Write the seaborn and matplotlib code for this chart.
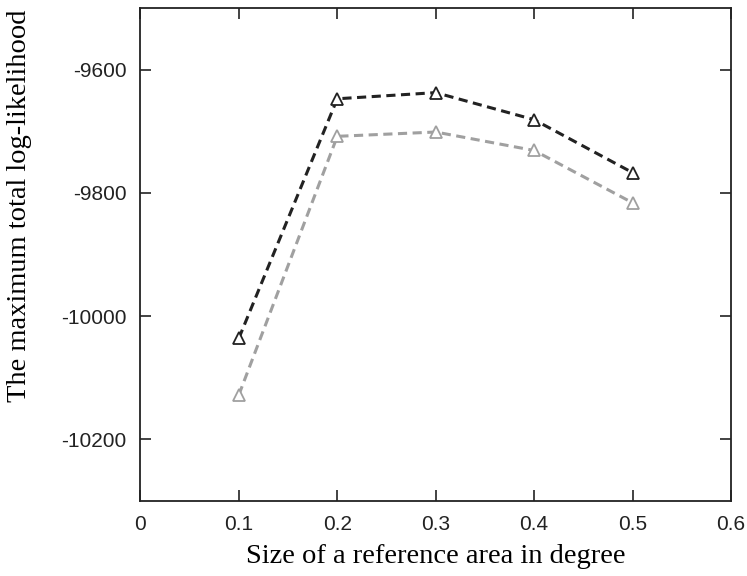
import matplotlib
matplotlib.use("Agg")
import matplotlib.pyplot as plt
import seaborn as sns
import pandas as pd

sizes = [0.1, 0.2, 0.3, 0.4, 0.5]
series_black = [-10036, -9647, -9637, -9681, -9767]
series_gray = [-10128, -9708, -9701, -9731, -9816]
x_ticks = [0, 0.1, 0.2, 0.3, 0.4, 0.5, 0.6]
y_ticks = [-9600, -9800, -10000, -10200]

sns.set_theme(style="ticks")
plt.rcParams['font.family'] = ['Liberation Serif', 'DejaVu Serif']

fig = plt.figure(figsize=(7.47, 5.76), dpi=100)
ax = fig.add_axes([0.188, 0.1307, 0.9786 - 0.188, 0.9856 - 0.1307])

df = pd.DataFrame({
    "size": sizes * 2,
    "ll": series_black + series_gray,
    "run": ["a"] * len(sizes) + ["b"] * len(sizes),
})

for run, color in [("b", "#a0a0a0"), ("a", "#222222")]:
    sub = df[df["run"] == run]
    sns.lineplot(data=sub, x="size", y="ll", ax=ax, color=color,
                 linewidth=2.2, linestyle=(0, (3, 1.8)), marker="^",
                 markersize=8.5, markerfacecolor="white",
                 markeredgecolor=color, markeredgewidth=1.3,
                 legend=False)

ax.set_xlim(0, 0.6)
ax.set_ylim(-10300, -9500)
ax.set_xticks(x_ticks)
ax.set_xticklabels(["0", "0.1", "0.2", "0.3", "0.4", "0.5", "0.6"])
ax.set_yticks(y_ticks)
ax.set_yticklabels([str(v) for v in y_ticks])

for lab in ax.get_xticklabels() + ax.get_yticklabels():
    lab.set_fontfamily(['Liberation Sans', 'DejaVu Sans'])
    lab.set_fontsize(15)
    lab.set_color("#222222")

ax.tick_params(direction="in", length=8, width=1.2, top=True, right=True,
               colors="#222222", pad=10)
for sp in ax.spines.values():
    sp.set_visible(True)
    sp.set_linewidth(1.3)
    sp.set_color("#222222")

ax.set_xlabel("Size of a reference area in degree", fontsize=20.5,
              color="#000000")
ax.set_ylabel("The maximum total log-likelihood", fontsize=20.5,
              color="#000000")
ax.xaxis.set_label_coords(0.5, -0.088)
ax.yaxis.set_label_coords(-0.183, 0.6)

fig.savefig("out.png", dpi=100)
